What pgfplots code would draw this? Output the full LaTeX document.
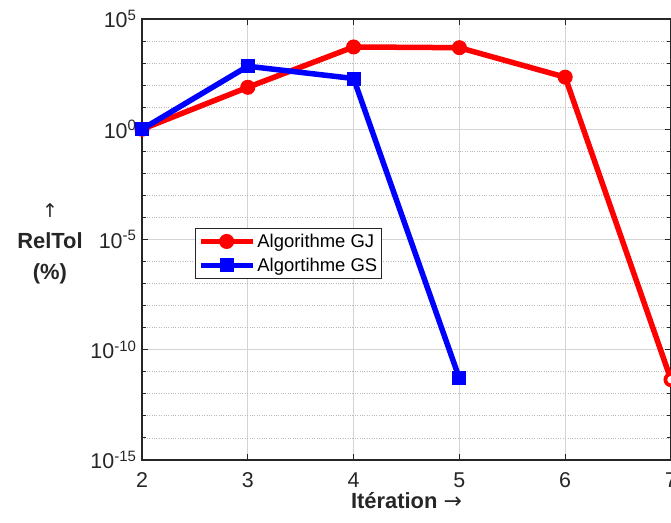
\documentclass[border=0pt]{standalone}
\usepackage{fontspec}
\setmainfont{Liberation Sans}
\newfontfamily\arrowfont{DejaVu Sans}
\usepackage{pgfplots}
\pgfplotsset{compat=1.18}
\definecolor{axgray}{RGB}{38,38,38}
\definecolor{gridgray}{RGB}{212,212,212}
\definecolor{mred}{RGB}{255,0,0}
\definecolor{mblue}{RGB}{0,0,255}
\begin{document}
\begin{tikzpicture}
\begin{axis}[
  scale only axis, width=529bp, height=441bp,
  ymode=log, xmin=2, xmax=7, ymin=1e-15, ymax=1e5,
  xtick={2,3,4,5,6,7},
  ytick={1e-15,1e-10,1e-5,1,1e5},
  yticklabels={10\textsuperscript{-15},10\textsuperscript{-10},10\textsuperscript{-5},10\textsuperscript{0},10\textsuperscript{5}},
  minor ytick={1e-14,1e-13,1e-12,1e-11,1e-9,1e-8,1e-7,1e-6,1e-4,1e-3,1e-2,1e-1,1e1,1e2,1e3,1e4},
  grid=both,
  major grid style={gridgray, line width=0.9bp},
  minor grid style={gray!55, dotted, line width=0.9bp},
  tick align=inside, tick pos=both,
  major tick length=6bp, minor tick length=4bp,
  axis line style={axgray, line width=1.1bp},
  tick style={axgray, line width=1bp},
  /pgf/number format/assume math mode=true,
  tick label style={font=\fontsize{21.5}{22}\selectfont, text=axgray},
  xticklabel style={yshift=-9bp},
  yticklabel style={xshift=-2bp},
  xlabel={Itération {\arrowfont\mdseries →}},
  xlabel style={font=\fontsize{22}{24}\selectfont\bfseries, text=axgray, at={(axis description cs:0.5,-0.091)}, anchor=center},
  ylabel={{\arrowfont\mdseries\fontsize{19}{20}\selectfont ↑}\\RelTol\\(\%)},
  ylabel style={font=\fontsize{22}{31}\selectfont\bfseries, text=axgray, align=center, rotate=-90, at={(axis description cs:-0.174,0.49)}, anchor=center},
  legend style={at={(axis description cs:0.1,0.526)}, anchor=north west, draw=axgray, line width=1bp, fill=white,
    font=\fontsize{18.5}{20}\selectfont, inner xsep=2.5bp, inner ysep=3.5bp, row sep=5bp},
  legend cell align=left,
  legend image code/.code={\draw[mark repeat=2,mark phase=2] plot coordinates {(0bp,0bp)(26bp,0bp)(52bp,0bp)};},
]
\addplot[mred, line width=5.5bp, mark=*, mark size=7bp, mark options={solid, fill=mred, line width=1bp}]
  coordinates {(2,1) (3,80) (4,5400) (5,5000) (6,230) (7,4.4e-12)};
\addlegendentry{Algorithme GJ}
\addplot[mblue, line width=5.5bp, mark=square*, mark size=6.5bp, mark options={solid, fill=mblue, line width=1bp}]
  coordinates {(2,1) (3,720) (4,200) (5,5e-12)};
\addlegendentry{Algortihme GS}
\addplot[forget plot, only marks, mark=*, mark size=5.5bp, mark options={draw=mred, fill=white, line width=3bp}]
  coordinates {(7,4.4e-12)};
\end{axis}
\pgfresetboundingbox
\path[use as bounding box] ([xshift=-142bp,yshift=-63bp]current axis.south west) rectangle ([yshift=19bp]current axis.north east);
\end{tikzpicture}
\end{document}
